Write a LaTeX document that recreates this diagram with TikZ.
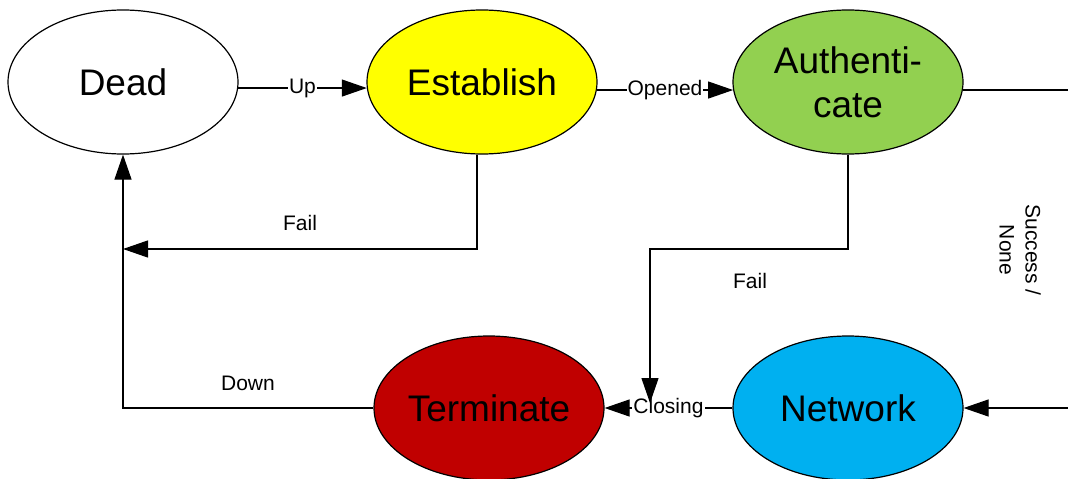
\documentclass[tikz,border=0pt]{standalone}
\usepackage{fontspec}
\setmainfont{Liberation Sans}
\usetikzlibrary{shapes.geometric,arrows.meta}
\definecolor{estyellow}{HTML}{FFFF00}
\definecolor{authgreen}{HTML}{92D050}
\definecolor{termred}{HTML}{C00000}
\definecolor{netblue}{HTML}{00B0F0}
\begin{document}
\begin{tikzpicture}[x=1pt,y=-1pt,
  state/.style={ellipse,draw,line width=1.2pt,minimum width=230pt,minimum height=144pt,inner sep=0pt,font=\fontsize{37}{44}\selectfont,align=center},
  conn/.style={line width=1.2pt},
  arr/.style={conn,-{Triangle[length=25pt,width=17pt]}},
  lbl/.style={font=\fontsize{21}{26}\selectfont,inner sep=1pt},
  onl/.style={lbl,fill=white}]
\useasboundingbox (0,0) rectangle (1068,479);
\clip (0,0) rectangle (1068,479);
\node[state] (dead) at (123,82) {Dead};
\node[state,fill=estyellow] (est) at (482,82) {Establish};
\node[state,fill=authgreen] (auth) at (848,82) {Authenti-\\cate};
\node[state,fill=termred] (term) at (489,408) {Terminate};
\node[state,fill=netblue] (net) at (848,408) {Network};
\coordinate (rt) at (1090,0);
\coordinate (f1) at (123,249);
\coordinate (f2) at (650,403);
\draw[arr] (dead.-3) -- node[onl]{Up} (est.183);
\draw[arr] (est.-4) -- node[onl]{Opened} (auth.184);
\draw[arr] (auth.-4) -- (auth.-4 -| rt) -- (rt |- net.east) -- (net.east);
\node[lbl,rotate=-90,align=center] (sn) at (1020,250) {Success /\\None};
\draw[arr] ([xshift=-5pt]est.south) |- (f1);
\node[lbl] (fail1) at (300,223) {Fail};
\draw[arr] (net.west) -- node[onl]{Closing} (term.east);
\draw[arr] (auth.south) -- (auth.south |- f1) -| (f2);
\node[lbl] (fail2) at (750,281) {Fail};
\draw[arr] (term.west) -| (dead.south);
\node[lbl] (down) at (248,383) {Down};
\end{tikzpicture}
\end{document}
